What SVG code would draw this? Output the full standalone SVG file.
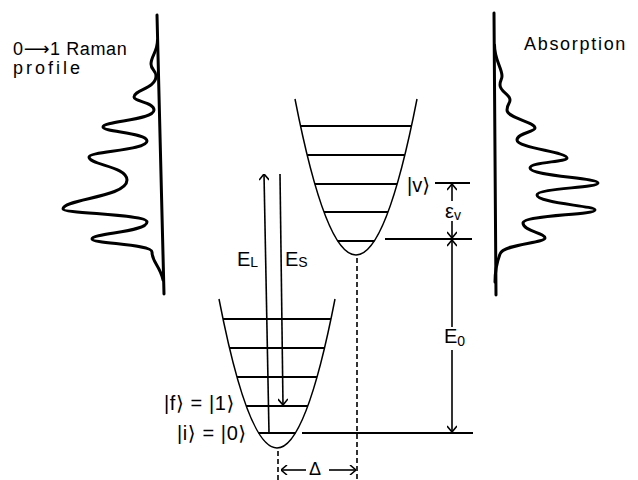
<svg xmlns="http://www.w3.org/2000/svg" width="638" height="480" viewBox="0 0 638 480">
<style>
.prof{fill:none;stroke:#000;stroke-width:3;stroke-linejoin:round;stroke-linecap:round}
.base{stroke:#000;stroke-width:3;stroke-linecap:round}
.well{fill:none;stroke:#000;stroke-width:1.5}
.lev{stroke:#000;stroke-width:2}
.arr{stroke:#000;stroke-width:1.6;fill:none;marker-end:url(#ah)}
.dash{stroke:#000;stroke-width:1.6;stroke-dasharray:5 3}
.t{font-family:"Liberation Sans","DejaVu Sans",sans-serif;font-size:18px;fill:#000}
.lab{font-family:"Liberation Sans","DejaVu Sans",sans-serif;font-size:20px;fill:#000}
.sub{font-size:14px}
.ar{font-family:"DejaVu Sans",sans-serif}
</style>
<defs>
<marker id="ah" viewBox="0 0 10 10" refX="10" refY="5" markerWidth="10" markerHeight="10" markerUnits="userSpaceOnUse" orient="auto">
<path d="M4,0 L10,5 L4,10" fill="none" stroke="#000" stroke-width="1.6"/>
</marker>
</defs>
<rect width="638" height="480" fill="#fff"/>

<g id="raman-profile">
<line class="base" x1="157" y1="15" x2="164" y2="294"/>
<path class="prof" d="M157.5,40 C157.5,52 151,56 151,64 C151,70 156,70 156,76 C156,88.6 134,89.65 134,97 C134,101.55 154,102.2 154,110 C154,120.2 103,121.05 103,127 C103,131.9 147,132.6 147,141 C147,150.6 89,151.4 89,157 C89,165 127,166.2 127,180 C127,197.4 63,198.85 63,209 C63,213.55 147,214.2 147,222 C147,232.2 92,233.05 92,239 C92,243.55 152,244.2 152,252 C152,262 160,266 163,280"/>
<text class="t" x="13" y="55" letter-spacing="0.6">0<tspan class="ar">⟶</tspan>1 Raman</text>
<text class="t" x="13" y="74" letter-spacing="3">profile</text>
</g>

<g id="absorption-profile">
<line class="base" x1="494" y1="13" x2="496" y2="295"/>
<path class="prof" d="M494.5,45 C494.5,60 502,68 502,76 C502,80 500,80 500,85 C500,92 510,94 510,100 C510,104 507,104 507,110 C507,118 535,122 535,128 C535,132 517,133 517,140 C517,148 567,152 567,158 C567,162 530,162 530,168 C530,176 598,178 598,183 C598,188 537,188 537,195 C537,203 595,206 595,210 C595,215 523,215 523,223 C523,231 545,233 545,238 C545,243 503,244 500,254 C497,262 495,270 495,282"/>
<text class="t" x="524" y="50" letter-spacing="1.7">Absorption</text>
</g>

<g id="excited-well">
<path class="well" d="M295,99 Q356,411 417,99"/>
<line class="lev" x1="300.6" y1="126" x2="411.4" y2="126"/>
<line class="lev" x1="307.2" y1="155" x2="404.8" y2="155"/>
<line class="lev" x1="314.9" y1="184" x2="397.1" y2="184"/>
<line class="lev" x1="324" y1="212" x2="388" y2="212"/>
<line class="lev" x1="337.7" y1="241" x2="374.3" y2="241"/>
<text class="lab" x="407" y="192">|v⟩</text>
</g>

<g id="ground-well">
<path class="well" d="M219,299 Q277,597 335,299"/>
<line class="lev" x1="223" y1="319" x2="331" y2="319"/>
<line class="lev" x1="229" y1="348" x2="325" y2="348"/>
<line class="lev" x1="237" y1="377" x2="317" y2="377"/>
<line class="lev" x1="246" y1="406" x2="308" y2="406"/>
<line class="lev" x1="258.5" y1="433" x2="295.5" y2="433"/>
<text class="lab" x="164" y="410" letter-spacing="0.6">|f⟩ = |1⟩</text>
<text class="lab" x="177" y="440" letter-spacing="0.6">|i⟩ = |0⟩</text>
</g>

<g id="reference-lines">
<line class="lev" x1="435" y1="183" x2="470" y2="183"/>
<line class="lev" x1="385" y1="239" x2="472" y2="239"/>
<line class="lev" x1="302" y1="433" x2="473" y2="433"/>
<line class="dash" x1="357" y1="258" x2="357" y2="480"/>
<line class="dash" x1="278" y1="451" x2="278" y2="480"/>
</g>

<g id="connectors">
<line class="arr" x1="269" y1="433" x2="264" y2="174"/>
<line class="arr" x1="280" y1="174" x2="283" y2="405"/>
<line class="arr" x1="452" y1="201" x2="452" y2="184"/>
<line class="arr" x1="452" y1="221" x2="452" y2="238"/>
<line class="arr" x1="452" y1="327" x2="452" y2="240"/>
<line class="arr" x1="452" y1="350" x2="452" y2="432"/>
<line class="arr" x1="306" y1="470" x2="281" y2="470"/>
<line class="arr" x1="329" y1="470" x2="356" y2="470"/>
</g>

<g id="labels">
<text class="lab" x="237" y="266">E<tspan class="sub" dy="1">L</tspan></text>
<text class="lab" x="285" y="266">E<tspan class="sub" dy="1">S</tspan></text>
<text class="lab" x="445" y="218">ε<tspan class="sub" dy="2">v</tspan></text>
<text class="lab" x="444" y="343">E<tspan class="sub" dy="3">0</tspan></text>
<text class="t" x="309" y="475">Δ</text>
</g>
</svg>
